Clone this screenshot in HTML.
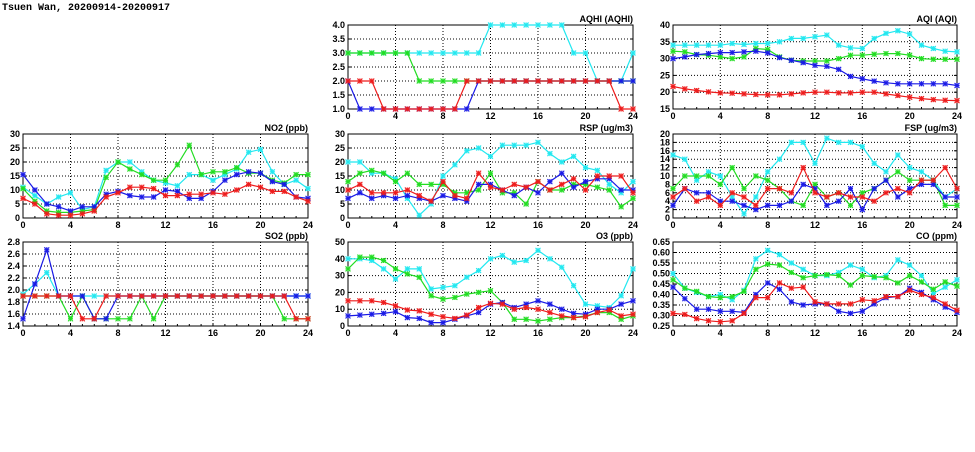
<!DOCTYPE html>
<html><head><meta charset="utf-8"><style>
body{margin:0;background:#fff;width:975px;height:447px;overflow:hidden}
svg text{font-family:"Liberation Sans",sans-serif;font-weight:bold;font-size:9px;fill:#000}
</style></head><body>
<svg id="s" width="975" height="447" viewBox="0 0 975 447" xmlns="http://www.w3.org/2000/svg">
<text x="2" y="10" style="font-size:10px;font-family:'Liberation Mono',monospace">Tsuen Wan, 20200914-20200917</text>
</svg>
<script>
const P=[
{t:"AQHI (AQHI)",b:[348,633,25,109],y0:1,y1:4,st:0.5,d:1,
s:[[3,3,3,3,3,3,3,3,3,3,3,3,4,4,4,4,4,4,4,3,3,2,2,2,3],
[3,3,3,3,3,3,2,2,2,2,2,2,2,2,2,2,2,2,2,2,2,2,2,2,2],
[2,1,1,1,1,1,1,1,1,1,1,2,2,2,2,2,2,2,2,2,2,2,2,2,2],
[2,2,2,1,1,1,1,1,1,1,2,2,2,2,2,2,2,2,2,2,2,2,2,1,1]]},
{t:"AQI (AQI)",b:[673,957,25,109],y0:15,y1:40,st:5,d:0,
s:[[34,34,34,34,34,34.5,34.2,34.5,34.5,35,36,36,36.5,37,34,33.2,33,36,37.5,38.3,37.3,34,33,32.2,32],
[32.2,32,31.2,31,30.5,30,30.5,33,32.7,30.5,29.5,29.3,29.3,29.3,30,31,31,31.3,31.5,31.5,31,30,29.8,29.8,29.8],
[30,30.5,31.2,31.5,31.8,31.8,32,32.2,31.7,30.3,29.5,28.8,28,27.7,26.8,24.7,24,23.3,22.8,22.5,22.5,22.5,22.5,22.5,22],
[21.7,21,20.5,20.1,19.8,19.7,19.5,19.3,19.2,19.2,19.5,19.8,20,20,19.8,19.8,20,20,19.5,19,18.5,18.1,17.8,17.6,17.5]]},
{t:"NO2 (ppb)",b:[23,308,134,218],y0:0,y1:30,st:5,d:0,
s:[[11,8,5,7.5,9,3,4,17,20,20,16.5,13.5,12.5,11.5,15.5,15.5,13.5,15.5,17.5,23.5,24.5,16.5,12,13.5,10.5],
[10.5,6,2.5,2,2,2.5,3,14.5,20,17.5,15.5,13.5,13.5,19,26,15.5,16.5,16.5,18,16,16,13.5,12.5,15.5,15.5],
[15.5,10,5,4,2.5,4,4,8.5,9.5,8,7.5,7.5,10,9.5,7,7,9.5,13.5,15.5,16.5,16,13,12,7.5,7],
[7,5,1.5,1,1,1.5,2.5,7.5,9,11,11,10.5,8,8,8.5,8.5,9,8.5,10,12,11,9.5,9.5,7.5,6]]},
{t:"RSP (ug/m3)",b:[348,633,134,218],y0:0,y1:30,st:5,d:0,
s:[[20,20,16,16,14,7,1,5,15,19,24,25,22,26,26,26,27,23,20,22,18,17,12,9,13],
[13,16,17,16,13,16,12,12,12,9,9,10,16,9,9,5,13,10,10,12,12,11,10,4,7],
[7,9,7,8,7,8,7,6,8,7,6,12,12,10,8,11,9,13,16,11,13,14,14,10,10],
[10,12,9,9,9,10,8,6,13,8,7,16,11,10,12,11,13,10,12,14,10,15,15,15,9]]},
{t:"FSP (ug/m3)",b:[673,957,134,218],y0:0,y1:20,st:2,d:0,
s:[[15,14,9,11,10,5,1,5,11,14,18,18,13,19,18,18,17,13,11,15,12,11,9,5,7],
[7,10,10,10,8,12,7,10,9,7,4,3,8,5,6,3,6,7,9,11,9,9,9,3,3],
[3,7,6,6,4,4,3,2,3,3,4,8,7,3,4,7,2,7,9,5,7,8,8,5,5],
[5,7,4,5,3,6,5,3,7,7,6,12,6,5,6,5,5,4,6,7,6,9,9,12,7]]},
{t:"SO2 (ppb)",b:[23,308,242,326],y0:1.4,y1:2.8,st:0.2,d:1,
s:[[1.93,2.1,2.29,1.9,1.9,1.9,1.9,1.9,1.9,1.9,1.9,1.9,1.9,1.9,1.9,1.9,1.9,1.9,1.9,1.9,1.9,1.9,1.9,1.9,1.9],
[1.9,1.9,1.9,1.9,1.52,1.9,1.52,1.52,1.52,1.52,1.9,1.52,1.9,1.9,1.9,1.9,1.9,1.9,1.9,1.9,1.9,1.9,1.52,1.52,1.52],
[1.52,2.1,2.67,1.9,1.9,1.9,1.52,1.52,1.9,1.9,1.9,1.9,1.9,1.9,1.9,1.9,1.9,1.9,1.9,1.9,1.9,1.9,1.9,1.9,1.9],
[1.9,1.9,1.9,1.9,1.9,1.52,1.52,1.9,1.9,1.9,1.9,1.9,1.9,1.9,1.9,1.9,1.9,1.9,1.9,1.9,1.9,1.9,1.9,1.52,1.52]]},
{t:"O3 (ppb)",b:[348,633,242,326],y0:0,y1:50,st:10,d:0,
s:[[40,40,39,34,28,34,34,22,23,24,29,33,40,42,38,39,45,40,35,24,13,12,11,18,34],
[34,41,41,39,34,31,29,18,16,17,19,20,21,14,4,4,3,4,5,5,6,8,8,4,6],
[6,6.5,7,7.5,8.5,5,4.5,2,2,4,6,8,13,14,11,13,15,13,10,7.5,7,10,10,13,15],
[15,15,15,14,12,9.5,9,7,5.5,4.5,6.5,11,13.5,13,10,11,10,8,6,5,5.5,8,9.5,6,7]]},
{t:"CO (ppm)",b:[673,957,242,326],y0:0.25,y1:0.65,st:0.05,d:2,
s:[[0.5,0.43,0.41,0.39,0.40,0.375,0.42,0.57,0.61,0.59,0.55,0.52,0.49,0.49,0.505,0.54,0.52,0.48,0.49,0.565,0.54,0.49,0.405,0.435,0.47],
[0.47,0.43,0.415,0.39,0.385,0.39,0.415,0.52,0.545,0.54,0.505,0.48,0.49,0.495,0.49,0.445,0.49,0.485,0.48,0.455,0.49,0.46,0.425,0.46,0.44],
[0.435,0.38,0.33,0.33,0.32,0.32,0.315,0.40,0.455,0.425,0.365,0.35,0.355,0.355,0.32,0.31,0.32,0.355,0.385,0.39,0.43,0.41,0.375,0.34,0.315],
[0.31,0.305,0.285,0.275,0.27,0.275,0.31,0.385,0.385,0.455,0.43,0.435,0.365,0.355,0.355,0.355,0.375,0.37,0.39,0.39,0.42,0.40,0.385,0.355,0.325]]}
];
const C=["#22e8f0","#22dd22","#1a1ae6","#ee1c1c"];
let h="";
for(const p of P){
 const [x0,x1,y0,y1]=p.b;
 const X=i=>x0+(x1-x0)*i/24, Y=v=>y1-(y1-y0)*(v-p.y0)/(p.y1-p.y0);
 const n=Math.round((p.y1-p.y0)/p.st);
 for(let k=0;k<=n;k++){const v=p.y0+k*p.st,y=Y(v).toFixed(1);
  if(k>0&&k<n)h+=`<line x1="${x0}" x2="${x1}" y1="${y}" y2="${y}" stroke="#000" stroke-width="1" stroke-dasharray="1,2"/>`;
  h+=`<line x1="${x0}" x2="${x0+3}" y1="${y}" y2="${y}" stroke="#000"/><line x1="${x1-3}" x2="${x1}" y1="${y}" y2="${y}" stroke="#000"/>`;
  h+=`<text x="${x0-3}" y="${+y+3}" text-anchor="end">${v.toFixed(p.d)}</text>`;}
 for(let i=0;i<=24;i+=4){const x=X(i).toFixed(1);
  if(i>0&&i<24)h+=`<line x1="${x}" x2="${x}" y1="${y0}" y2="${y1}" stroke="#000" stroke-dasharray="1,2"/>`;
  h+=`<text x="${x}" y="${y1+10}" text-anchor="middle">${i}</text>`;}
 for(let i=0;i<=24;i++){const x=X(i).toFixed(1);h+=`<line x1="${x}" x2="${x}" y1="${y1}" y2="${y1-2}" stroke="#000"/>`;}
 h+=`<rect x="${x0}" y="${y0}" width="${x1-x0}" height="${y1-y0}" fill="none" stroke="#000"/>`;
 h+=`<text x="${x1}" y="${y0-3}" text-anchor="end">${p.t}</text>`;
 p.s.forEach((s,j)=>{
  h+=`<polyline fill="none" stroke="${C[j]}" stroke-width="1.2" points="${s.map((v,i)=>X(i).toFixed(1)+","+Y(v).toFixed(1)).join(" ")}"/>`;
  s.forEach((v,i)=>{const x=X(i),y=Y(v),r=2.5;
   h+=`<rect x="${x-r}" y="${y-r}" width="${2*r}" height="${2*r}" fill="${C[j]}" fill-opacity="0.3"/><path d="M${x-r} ${y-r}L${x+r} ${y+r}M${x-r} ${y+r}L${x+r} ${y-r}M${x-r} ${y}H${x+r}M${x} ${y-r}V${y+r}" stroke="${C[j]}" stroke-width="1"/>`;});
 });
}
document.getElementById("s").insertAdjacentHTML("beforeend",h);
</script>
</body></html>
